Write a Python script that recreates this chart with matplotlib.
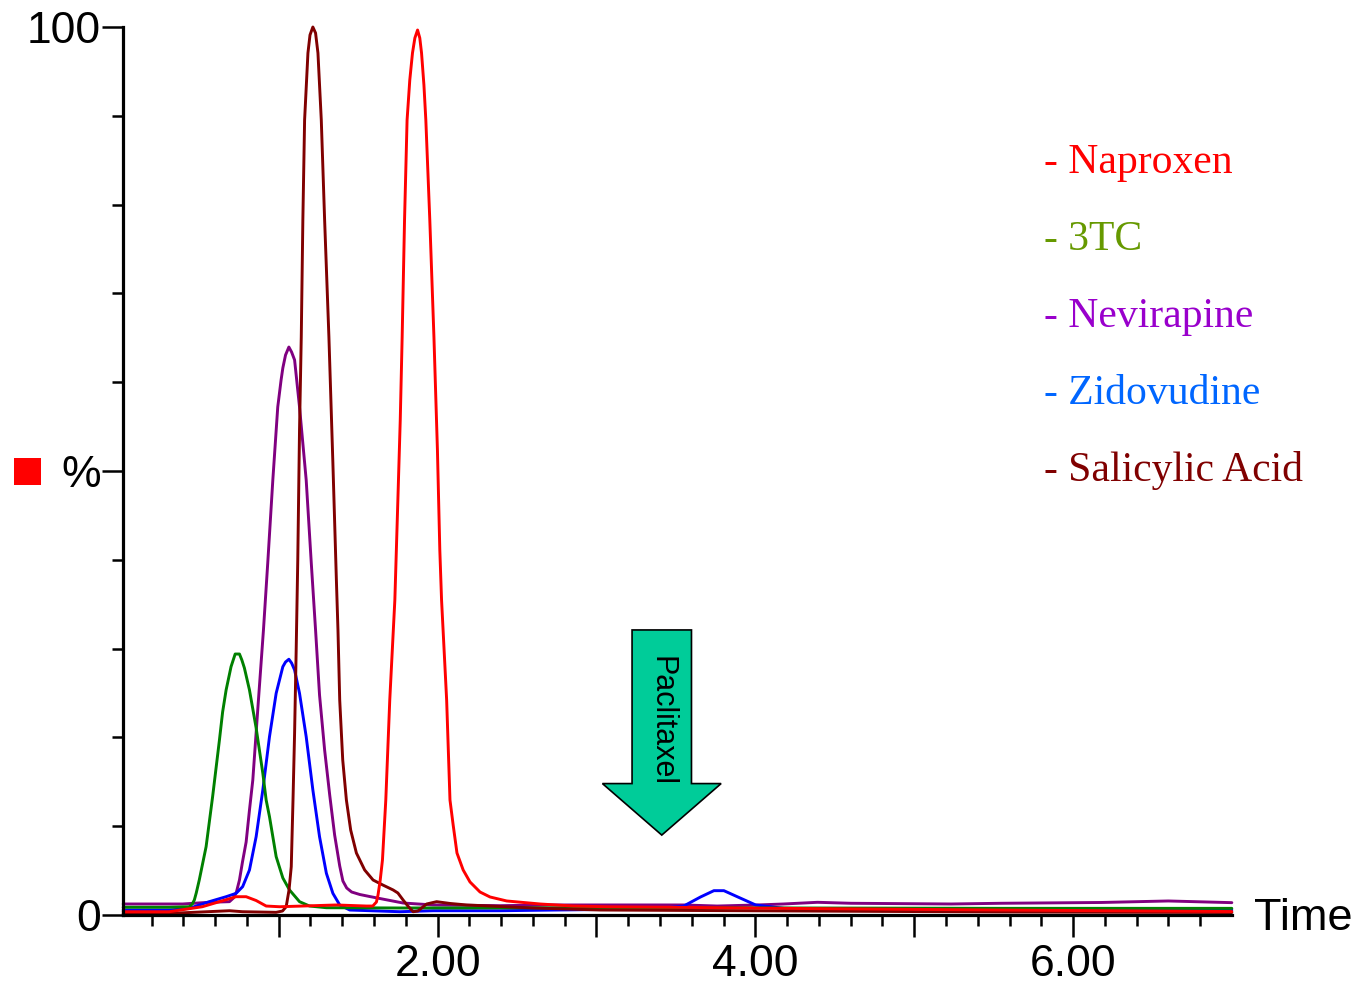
import numpy as np
import matplotlib
matplotlib.use("Agg")
import matplotlib.pyplot as plt
from matplotlib.patches import FancyArrow, Rectangle

# 크로마토그램 데이터 (시간, 상대강도 %)
sal_t = [0.021, 0.374, 0.690, 0.772, 0.984, 1.024, 1.047, 1.065, 1.079, 1.090, 1.100, 1.110, 1.120,
         1.131, 1.142, 1.152, 1.163, 1.184, 1.197, 1.215, 1.232, 1.247, 1.268, 1.289, 1.316, 1.341,
         1.363, 1.373, 1.384, 1.403, 1.426, 1.453, 1.489, 1.541, 1.594, 1.655, 1.720, 1.750, 1.783,
         1.813, 1.846, 1.876, 1.931, 1.994, 2.078, 2.183, 2.601, 3.024, 4.286, 5.548, 6.999]
sal_i = [0.19, 0.23, 0.48, 0.37, 0.30, 0.45, 0.93, 2.82, 5.44, 12.95, 20.50, 29.84, 39.98,
         54.62, 65.09, 78.27, 89.53, 97.07, 99.10, 100.0, 99.32, 97.07, 89.53, 78.27, 65.09, 50.90,
         37.73, 32.09, 24.21, 17.45, 12.95, 9.57, 6.98, 5.07, 3.94, 3.38, 2.82, 2.48, 1.69,
         1.01, 0.37, 0.45, 1.24, 1.50, 1.30, 1.13, 0.79, 0.56, 0.45, 0.34, 0.28]

nap_t = [0.021, 0.311, 0.519, 0.627, 0.732, 0.795, 0.858, 0.921, 1.005, 1.150, 1.363, 1.552, 1.592,
         1.615, 1.625, 1.639, 1.653, 1.674, 1.699, 1.731, 1.750, 1.765, 1.777, 1.792, 1.808, 1.825,
         1.842, 1.857, 1.874, 1.888, 1.899, 1.914, 1.926, 1.951, 1.977, 1.999, 2.014, 2.025, 2.057,
         2.078, 2.098, 2.122, 2.161, 2.204, 2.267, 2.330, 2.435, 2.645, 2.854, 3.066, 3.485, 4.286,
         5.548, 6.999]
nap_i = [0.37, 0.37, 0.93, 1.50, 2.06, 2.06, 1.63, 1.01, 0.93, 1.01, 1.13, 1.01, 1.01,
         1.46, 2.25, 3.94, 6.19, 12.95, 24.21, 35.47, 46.73, 55.74, 65.09, 78.27, 89.53, 94.03,
         97.07, 98.76, 99.66, 98.76, 97.07, 93.47, 89.53, 78.27, 65.09, 52.36, 41.10, 35.47, 24.21,
         12.95, 10.14, 6.98, 5.07, 3.72, 2.59, 2.03, 1.58, 1.24, 1.01, 0.93, 0.87, 0.73,
         0.56, 0.39]

nev_t = [0.021, 0.395, 0.563, 0.690, 0.715, 0.734, 0.753, 0.772, 0.795, 0.816, 0.837, 0.868, 0.904,
         0.931, 0.963, 0.994, 1.015, 1.026, 1.043, 1.064, 1.081, 1.100, 1.131, 1.173, 1.205, 1.232,
         1.257, 1.289, 1.321, 1.352, 1.384, 1.404, 1.428, 1.459, 1.510, 1.573, 1.667, 1.783, 1.972,
         2.393, 2.708, 3.548, 3.760, 4.013, 4.178, 4.391, 4.601, 5.232, 5.548, 6.179, 6.599, 6.999]
nev_i = [1.24, 1.24, 1.43, 1.50, 1.91, 2.59, 3.94, 5.97, 8.22, 11.82, 15.20, 23.09, 32.09,
         39.64, 48.99, 57.21, 60.25, 61.60, 63.06, 63.96, 63.40, 62.50, 57.21, 48.99, 39.64, 32.09,
         24.77, 18.58, 13.51, 9.01, 5.52, 3.83, 3.04, 2.59, 2.31, 2.08, 1.75, 1.35, 1.13,
         1.05, 1.13, 1.13, 1.01, 1.13, 1.24, 1.43, 1.32, 1.24, 1.32, 1.41, 1.58, 1.39]

zid_t = [0.021, 0.311, 0.437, 0.563, 0.669, 0.732, 0.773, 0.816, 0.858, 0.900, 0.942, 0.984, 1.026,
         1.043, 1.064, 1.081, 1.100, 1.131, 1.173, 1.215, 1.257, 1.300, 1.341, 1.384, 1.447, 1.762,
         1.972, 2.393, 3.024, 3.339, 3.549, 3.655, 3.739, 3.802, 3.886, 4.002, 4.180, 4.917, 6.179,
         6.999]
zid_i = [0.56, 0.56, 0.75, 1.50, 2.06, 2.44, 3.19, 5.07, 8.82, 14.08, 20.08, 24.97, 27.96,
         28.49, 28.80, 28.38, 27.59, 24.97, 20.08, 14.08, 8.82, 4.70, 2.44, 1.13, 0.56, 0.37,
         0.48, 0.48, 0.62, 0.62, 1.01, 2.03, 2.74, 2.74, 2.06, 1.13, 0.75, 0.56, 0.56,
         0.56]

tc_t = [0.021, 0.311, 0.437, 0.456, 0.469, 0.481, 0.500, 0.543, 0.584, 0.627, 0.647, 0.669, 0.700,
        0.726, 0.753, 0.768, 0.784, 0.816, 0.858, 0.900, 0.921, 0.942, 0.984, 1.026, 1.068, 1.131,
        1.194, 1.300, 1.762, 3.024, 4.286, 5.548, 6.999]
tc_i = [0.87, 0.87, 0.93, 1.24, 1.69, 2.48, 3.94, 7.69, 13.32, 19.71, 22.86, 25.34, 27.96,
        29.39, 29.39, 28.72, 27.82, 25.34, 21.06, 15.96, 12.95, 11.07, 6.57, 4.17, 2.82, 1.50,
        1.01, 0.82, 0.79, 0.81, 0.79, 0.75, 0.75]

names = ["Naproxen", "3TC", "Nevirapine", "Zidovudine", "Salicylic Acid"]
name_colors = ["#ff0000", "#669900", "#9900cc", "#0066ff", "#800000"]

sans = ["Liberation Sans", "DejaVu Sans"]

fig = plt.figure(figsize=(13.6, 9.85), dpi=100)
ax = fig.add_axes([123 / 1360, 1 - 915 / 985, 1109 / 1360, 888 / 985])

kw = dict(lw=2.1, clip_on=False, solid_joinstyle="round", solid_capstyle="round")
ax.plot(nev_t, nev_i, color="#800080", **kw)
ax.plot(zid_t, zid_i, color="#0000ff", **kw)
ax.plot(tc_t, tc_i, color="#008000", **kw)
ax.plot(sal_t, sal_i, color="#800000", **kw)
ax.plot(nap_t, nap_i, color="#ff0000", **kw)

ax.set_xlim(0.02, 7.0)
ax.set_ylim(0, 100)

# 축 스타일
for s in ["top", "right"]:
    ax.spines[s].set_visible(False)
for s in ["left", "bottom"]:
    ax.spines[s].set_linewidth(2.3)

ax.set_xticks([1, 2, 3, 4, 5, 6])
ax.set_xticklabels(["", "2.00", "", "4.00", "", "6.00"])
ax.set_xticks([round(0.2 * k, 1) for k in range(1, 35) if k % 5 != 0], minor=True)
ax.set_yticks([0, 50, 100])
ax.set_yticklabels(["0", "%", "100"])
ax.set_yticks([10, 20, 30, 40, 60, 70, 80, 90], minor=True)

ax.tick_params(which="major", length=15, width=1.8, direction="out")
ax.tick_params(which="minor", length=8, width=1.8, direction="out")
ax.tick_params(axis="x", which="major", length=16, pad=5)
ax.tick_params(axis="y", which="major", pad=1)
for lab in ax.get_xticklabels() + ax.get_yticklabels():
    lab.set_fontsize(32)
    lab.set_family(sans)

fig.text(1254 / 1360, 1 - 918 / 985, "Time", fontsize=32.5, family=sans, ha="left", va="center")

# 빨간 사각형 표시
fig.add_artist(Rectangle((14 / 1360, 1 - 485 / 985), 27 / 1360, 27 / 985,
                         transform=fig.transFigure, color="#ff0000", lw=0))

# Paclitaxel 화살표
arrow = FancyArrow(3.411, 32.1, 0, -23.1, width=0.374, head_width=0.747, head_length=5.8,
                   length_includes_head=True, facecolor="#00cc99", edgecolor="black", lw=1.2,
                   zorder=5)
ax.add_patch(arrow)
ax.text(3.409, 21.9, "Paclitaxel", rotation=270, fontsize=22, family=sans,
        ha="center", va="center", zorder=6)

# 범례 텍스트
baselines = [173.5, 250.5, 327.5, 404.5, 481.5]
for name, c, yb in zip(names, name_colors, baselines):
    fig.text(1044 / 1360, 1 - yb / 985, "- " + name, color=c, fontsize=30,
             family=["Liberation Serif", "DejaVu Serif"], ha="left", va="baseline")

plt.savefig("out.png", dpi=100)
